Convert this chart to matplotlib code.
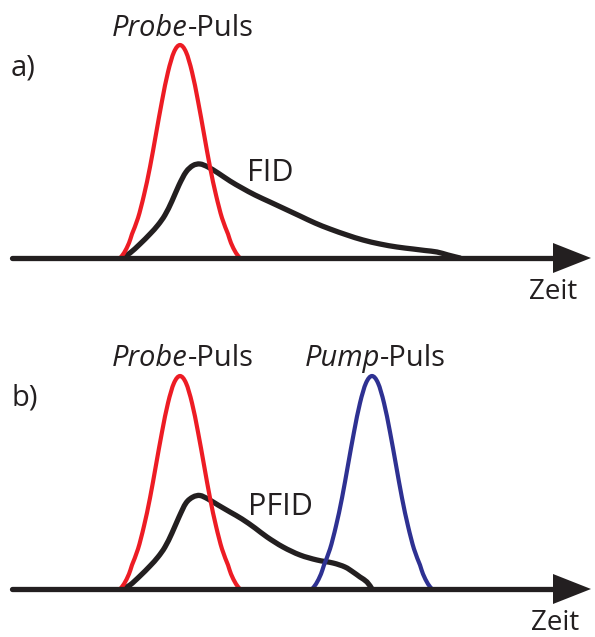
import matplotlib.pyplot as plt
from matplotlib.patches import Polygon, PathPatch
from matplotlib.path import Path

plt.rcParams['font.family'] = ['Open Sans', 'DejaVu Sans']

# Pulsform (Höhe über der Zeitachse) relativ zum Pulsmaximum
pulse_dt = [-60, -56, -51, -48, -42, -36, -30, -24, -18, -12, -6, 0,
            6, 12, 18, 24, 30, 36, 42, 48, 51, 56, 60]
pulse_h = [0, 5, 15, 24, 40, 63, 91, 124, 157, 186, 206, 213,
           206, 186, 157, 124, 91, 63, 40, 24, 15, 5, 0]

probe_t0 = 180
pump_t0 = 372

# FID nach dem Probe-Puls (Teil a)
fid_t = [122, 130, 140, 150, 158, 165, 172, 179, 186, 193, 200, 208, 218,
         230, 242, 255, 270, 285, 300, 315, 330, 347, 363, 380, 397, 413,
         425, 437, 448, 460]
fid_h = [0, 5, 14, 24, 33, 43, 57, 73, 86, 92.5, 94, 91, 85,
         77, 70, 63, 56, 49, 42, 35, 29, 23, 18, 14, 11, 9,
         7.5, 6, 3, 0]

# PFID, durch den Pump-Puls abgeschnitten (Teil b)
pfid_t = [122, 130, 140, 150, 158, 165, 172, 179, 186, 193, 200, 208, 218,
          230, 242, 255, 267, 283, 300, 317, 333, 345, 353, 360, 367, 372]
pfid_h = [0, 4, 13, 23, 32, 42, 56, 72, 86, 92, 93.5, 90, 84,
          77, 70, 61, 52, 42, 34, 29, 26, 22, 17, 12, 7, 0]

RED = '#ED1C24'
BLUE = '#2E3192'
BLACK = '#231F20'

fig = plt.figure(figsize=(5.95, 6.37), dpi=100)
ax = fig.add_axes([0, 0, 1, 1])
ax.set_xlim(0, 595)
ax.set_ylim(637, 0)
ax.axis('off')


def smooth_line(xs, ys, color, lw, z):
    # glatte Linie durch die Punkte (Catmull-Rom als Bezier-Pfad)
    pts = list(zip(xs, ys))
    verts = [pts[0]]
    codes = [Path.MOVETO]
    n = len(pts)
    for i in range(n - 1):
        p0 = pts[i - 1] if i > 0 else pts[i]
        p1 = pts[i]
        p2 = pts[i + 1]
        p3 = pts[i + 2] if i + 2 < n else pts[i + 1]
        c1 = (p1[0] + (p2[0] - p0[0]) / 6, p1[1] + (p2[1] - p0[1]) / 6)
        c2 = (p2[0] - (p3[0] - p1[0]) / 6, p2[1] - (p3[1] - p1[1]) / 6)
        verts += [c1, c2, p2]
        codes += [Path.CURVE4] * 3
    ax.add_patch(PathPatch(Path(verts, codes), fill=False, edgecolor=color,
                           lw=lw, joinstyle='round', capstyle='round',
                           zorder=z))


def pulse(base, t0, color):
    xs = [t0 + d for d in pulse_dt]
    ys = [base - h for h in pulse_h]
    smooth_line(xs, ys, color, 3.0, 3)


def time_axis(base):
    ax.plot([12, 560], [base, base], color=BLACK, lw=3.8,
            solid_capstyle='round', zorder=4)
    ax.add_patch(Polygon([(553, base - 15), (591, base), (553, base + 15)],
                         closed=True, color=BLACK, lw=0, zorder=4))


def pulse_label(x, base_y, italic, rest):
    ax.text(x, base_y, italic, style='italic', fontsize=21, color=BLACK,
            ha='right', va='baseline')
    ax.text(x, base_y, rest, fontsize=21, color=BLACK,
            ha='left', va='baseline')


# a) Probe-Puls und FID
base_a = 258
smooth_line(fid_t, [base_a - h for h in fid_h], BLACK, 3.8, 2)
pulse(base_a, probe_t0, RED)
time_axis(base_a)
pulse_label(188, 36, 'Probe', '-Puls')
ax.text(11, 76, 'a)', fontsize=21, color=BLACK, va='baseline')
ax.text(247, 181, 'FID', fontsize=22, color=BLACK, va='baseline')
ax.text(529, 299, 'Zeit', fontsize=20, color=BLACK, va='baseline')

# b) Probe-Puls, PFID und Pump-Puls
base_b = 589
smooth_line(pfid_t, [base_b - h for h in pfid_h], BLACK, 3.8, 2)
pulse(base_b, probe_t0, RED)
pulse(base_b, pump_t0, BLUE)
time_axis(base_b)
pulse_label(188, 366, 'Probe', '-Puls')
pulse_label(380, 366, 'Pump', '-Puls')
ax.text(11, 406, 'b)', fontsize=21, color=BLACK, va='baseline')
ax.text(248, 515, 'PFID', fontsize=22, color=BLACK, va='baseline')
ax.text(531, 630, 'Zeit', fontsize=20, color=BLACK, va='baseline')

fig.savefig('out.png', dpi=100)
